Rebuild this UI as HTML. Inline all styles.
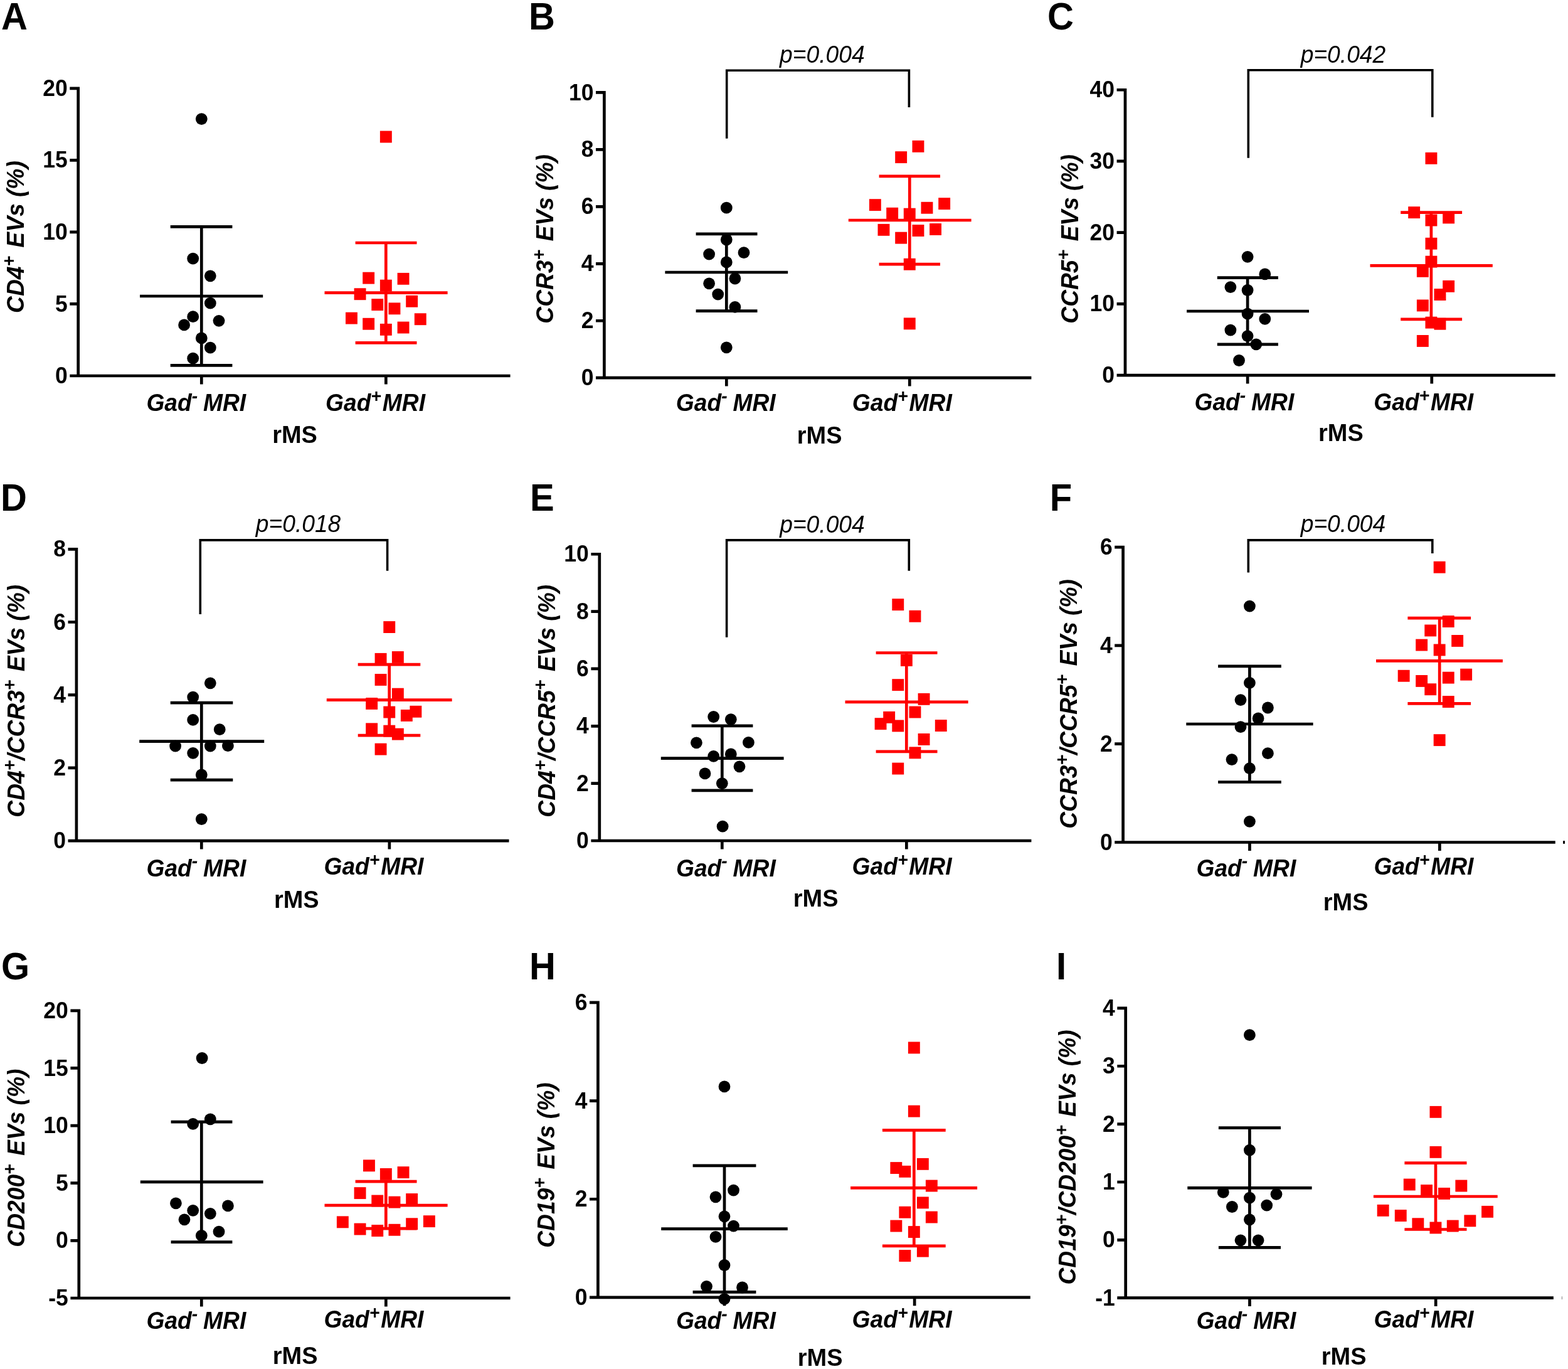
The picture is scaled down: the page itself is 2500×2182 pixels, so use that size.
<!DOCTYPE html>
<html lang="en">
<head>
<meta charset="utf-8">
<title>Figure: EV subpopulations in rMS by Gad MRI status</title>
<style>
html,body{margin:0;padding:0;background:#fff}
body{width:2500px;height:2182px;overflow:hidden}
svg{display:block}
text{font-family:"Liberation Sans",Arial,Helvetica,sans-serif;fill:#000}
.pl{font-size:58px;font-weight:bold}
.tk{font-size:35.5px;font-weight:bold;text-anchor:end}
.yl,.xl{font-size:37.2px;font-weight:bold;font-style:italic}
.rm{font-size:37.2px;font-weight:bold}
.pv{font-size:37.2px;font-style:italic}
.ax,.eb{stroke:#000;stroke-width:4.7;fill:none}
.er{stroke:#ff0000;stroke-width:4.7;fill:none}
.br{stroke:#000;stroke-width:3.6;fill:none}
.c{fill:#000}
.s{fill:#ff0000}
</style>
</head>
<body>
<svg xmlns="http://www.w3.org/2000/svg" width="2500" height="2182" viewBox="0 0 2500 2182">
<rect width="2500" height="2182" fill="#fff"/>
<g id="panel-A">
<text class="pl" transform="translate(1.9 46.8) scale(1 1.042)">A</text>
<path class="ax" d="M124.7 138.45V601.35M111.3 599H813.57M111.3 140.8H124.7M111.3 255.35H124.7M111.3 369.9H124.7M111.3 484.45H124.7M321.3 599V612.4M615.34 599V612.4"/>
<text class="tk" transform="translate(107.72 152.89) scale(1 1.06)">20</text>
<text class="tk" transform="translate(107.72 267.44) scale(1 1.06)">15</text>
<text class="tk" transform="translate(107.72 381.99) scale(1 1.06)">10</text>
<text class="tk" transform="translate(107.72 496.54) scale(1 1.06)">5</text>
<text class="tk" transform="translate(107.72 611.09) scale(1 1.06)">0</text>
<text class="yl" transform="translate(37.8 498.9) rotate(-90) scale(1 1.03)">CD4<tspan dy="-13.4" font-size="28.3">+</tspan><tspan dy="13.4" dx="3">&#160;EVs (%)</tspan></text>
<text class="xl" transform="translate(233.41 654.7) scale(1 1.06)">Gad<tspan dy="-13.4" font-size="28.3">-</tspan><tspan dy="13.4" dx="-1.5">&#160;MRI</tspan></text>
<text class="xl" transform="translate(519.02 654.7) scale(1 1.06)">Gad<tspan dy="-13.4" font-size="28.3">+</tspan><tspan dy="13.4" dx="1.9">MRI</tspan></text>
<text class="rm" transform="translate(434.18 705.62) scale(1.02 1.06)">rMS</text>
<path class="eb" d="M223 472H419.2M271.7 361.4H370.4M271.7 582.3H370.4M321.3 361.4V582.3"/>
<path class="er" d="M517.5 466.7H713.6M566.6 387H664.5M566.6 546.4H664.5M615.3 387V546.4"/>
<circle class="c" cx="321.3" cy="189.6" r="9.4"/>
<circle class="c" cx="307.7" cy="412.2" r="9.4"/>
<circle class="c" cx="335.3" cy="439.8" r="9.4"/>
<circle class="c" cx="335.3" cy="483.2" r="9.4"/>
<circle class="c" cx="307.7" cy="504.7" r="9.4"/>
<circle class="c" cx="349" cy="511.3" r="9.4"/>
<circle class="c" cx="293.6" cy="517.9" r="9.4"/>
<circle class="c" cx="321.3" cy="538.9" r="9.4"/>
<circle class="c" cx="335.3" cy="554.2" r="9.4"/>
<circle class="c" cx="307.7" cy="571.2" r="9.4"/>
<rect class="s" x="605.9" y="208.6" width="18.9" height="18.9"/>
<rect class="s" x="578.2" y="433.7" width="18.9" height="18.9"/>
<rect class="s" x="633.6" y="434.9" width="18.9" height="18.9"/>
<rect class="s" x="605.9" y="445.7" width="18.9" height="18.9"/>
<rect class="s" x="564.6" y="459.3" width="18.9" height="18.9"/>
<rect class="s" x="647.2" y="470.8" width="18.9" height="18.9"/>
<rect class="s" x="592.3" y="476.2" width="18.9" height="18.9"/>
<rect class="s" x="619.5" y="482.4" width="18.9" height="18.9"/>
<rect class="s" x="551" y="497.7" width="18.9" height="18.9"/>
<rect class="s" x="660.8" y="499.3" width="18.9" height="18.9"/>
<rect class="s" x="578.2" y="506.8" width="18.9" height="18.9"/>
<rect class="s" x="633.6" y="512.6" width="18.9" height="18.9"/>
<rect class="s" x="605.9" y="515.9" width="18.9" height="18.9"/>
</g>
<g id="panel-B">
<text class="pl" transform="translate(843.1 46.8) scale(1 1.042)">B</text>
<path class="ax" d="M963.4 145.1V604.55M950 602.2H1644.4M950 147.45H963.4M950 238.4H963.4M950 329.35H963.4M950 420.3H963.4M950 511.25H963.4M1158.32 602.2V615.6M1450.29 602.2V615.6"/>
<text class="tk" transform="translate(946.42 159.54) scale(1 1.06)">10</text>
<text class="tk" transform="translate(946.42 250.49) scale(1 1.06)">8</text>
<text class="tk" transform="translate(946.42 341.44) scale(1 1.06)">6</text>
<text class="tk" transform="translate(946.42 432.39) scale(1 1.06)">4</text>
<text class="tk" transform="translate(946.42 523.34) scale(1 1.06)">2</text>
<text class="tk" transform="translate(946.42 614.29) scale(1 1.06)">0</text>
<text class="yl" transform="translate(882.4 515.7) rotate(-90) scale(1 1.03)">CCR3<tspan dy="-13.4" font-size="28.3">+</tspan><tspan dy="13.4" dx="3">&#160;EVs (%)</tspan></text>
<text class="xl" transform="translate(1077.82 654.7) scale(1 1.06)">Gad<tspan dy="-13.4" font-size="28.3">-</tspan><tspan dy="13.4" dx="-1.5">&#160;MRI</tspan></text>
<text class="xl" transform="translate(1358.77 654.99) scale(1 1.06)">Gad<tspan dy="-13.4" font-size="28.3">+</tspan><tspan dy="13.4" dx="1.9">MRI</tspan></text>
<text class="rm" transform="translate(1270.79 707.02) scale(1.02 1.06)">rMS</text>
<text class="pv" transform="translate(1243.1 100.2) scale(1 1.06)">p=0.004</text>
<path class="br" d="M1158.7 220.7V112.2H1449.4V170.9"/>
<path class="eb" d="M1060.4 434H1256.2M1109.6 372.9H1207.5M1109.6 495.6H1207.5M1158.3 372.9V495.6"/>
<path class="er" d="M1352.8 351H1548.6M1401.6 280.8H1499M1401.6 421.2H1499M1450.3 280.8V421.2"/>
<circle class="c" cx="1158.3" cy="331.2" r="9.4"/>
<circle class="c" cx="1158.3" cy="382" r="9.4"/>
<circle class="c" cx="1130.6" cy="405.1" r="9.4"/>
<circle class="c" cx="1186" cy="402.7" r="9.4"/>
<circle class="c" cx="1158.3" cy="417.9" r="9.4"/>
<circle class="c" cx="1171.9" cy="444" r="9.4"/>
<circle class="c" cx="1130.6" cy="451.8" r="9.4"/>
<circle class="c" cx="1144.7" cy="469.1" r="9.4"/>
<circle class="c" cx="1171.9" cy="489.4" r="9.4"/>
<circle class="c" cx="1158.3" cy="553.8" r="9.4"/>
<rect class="s" x="1454.5" y="223.9" width="18.9" height="18.9"/>
<rect class="s" x="1427.2" y="241.2" width="18.9" height="18.9"/>
<rect class="s" x="1385.9" y="317.2" width="18.9" height="18.9"/>
<rect class="s" x="1496.2" y="315.2" width="18.9" height="18.9"/>
<rect class="s" x="1468.5" y="321.8" width="18.9" height="18.9"/>
<rect class="s" x="1413.2" y="330.8" width="18.9" height="18.9"/>
<rect class="s" x="1440.8" y="331.7" width="18.9" height="18.9"/>
<rect class="s" x="1399.5" y="356.9" width="18.9" height="18.9"/>
<rect class="s" x="1482.1" y="356" width="18.9" height="18.9"/>
<rect class="s" x="1454.5" y="358.1" width="18.9" height="18.9"/>
<rect class="s" x="1427.2" y="369.7" width="18.9" height="18.9"/>
<rect class="s" x="1440.8" y="411.8" width="18.9" height="18.9"/>
<rect class="s" x="1440.8" y="506.4" width="18.9" height="18.9"/>
</g>
<g id="panel-C">
<text class="pl" transform="translate(1670.1 46.8) scale(1 1.042)">C</text>
<path class="ax" d="M1794 140.9V600.45M1780.6 598.1H2479.76M1780.6 143.25H1794M1780.6 256.96H1794M1780.6 370.68H1794M1780.6 484.39H1794M1989.14 598.1V611.5M2282.77 598.1V611.5"/>
<text class="tk" transform="translate(1777.02 155.34) scale(1 1.06)">40</text>
<text class="tk" transform="translate(1777.02 269.06) scale(1 1.06)">30</text>
<text class="tk" transform="translate(1777.02 382.77) scale(1 1.06)">20</text>
<text class="tk" transform="translate(1777.02 496.48) scale(1 1.06)">10</text>
<text class="tk" transform="translate(1777.02 610.19) scale(1 1.06)">0</text>
<text class="yl" transform="translate(1719.2 515.7) rotate(-90) scale(1 1.03)">CCR5<tspan dy="-13.4" font-size="28.3">+</tspan><tspan dy="13.4" dx="3">&#160;EVs (%)</tspan></text>
<text class="xl" transform="translate(1904.47 654.2) scale(1 1.06)">Gad<tspan dy="-13.4" font-size="28.3">-</tspan><tspan dy="13.4" dx="-1.5">&#160;MRI</tspan></text>
<text class="xl" transform="translate(2190.26 654.2) scale(1 1.06)">Gad<tspan dy="-13.4" font-size="28.3">+</tspan><tspan dy="13.4" dx="1.9">MRI</tspan></text>
<text class="rm" transform="translate(2102.03 702.89) scale(1.02 1.06)">rMS</text>
<text class="pv" transform="translate(2073.7 100.1) scale(1 1.06)">p=0.042</text>
<path class="br" d="M1990.3 251.8V111.8H2283.8V186.7"/>
<path class="eb" d="M1892.1 496H2087M1940.8 442.7H2037.9M1940.8 548.8H2037.9M1989.1 442.7V548.8"/>
<path class="er" d="M2184.5 423.3H2379.8M2233.2 338.6H2331.1M2233.2 508.8H2331.1M2281.9 338.6V508.8"/>
<circle class="c" cx="1989.1" cy="409.3" r="9.4"/>
<circle class="c" cx="2016.8" cy="436.9" r="9.4"/>
<circle class="c" cx="1961.9" cy="457.6" r="9.4"/>
<circle class="c" cx="1989.1" cy="462.5" r="9.4"/>
<circle class="c" cx="1989.1" cy="500.1" r="9.4"/>
<circle class="c" cx="2016.8" cy="508.4" r="9.4"/>
<circle class="c" cx="1961.9" cy="526.1" r="9.4"/>
<circle class="c" cx="1989.1" cy="535.6" r="9.4"/>
<circle class="c" cx="2002.8" cy="548.8" r="9.4"/>
<circle class="c" cx="1975.5" cy="574.5" r="9.4"/>
<rect class="s" x="2272.5" y="242.9" width="18.9" height="18.9"/>
<rect class="s" x="2245.2" y="329.2" width="18.9" height="18.9"/>
<rect class="s" x="2300.2" y="337.5" width="18.9" height="18.9"/>
<rect class="s" x="2272.5" y="341.6" width="18.9" height="18.9"/>
<rect class="s" x="2272.5" y="378.8" width="18.9" height="18.9"/>
<rect class="s" x="2272.5" y="407.7" width="18.9" height="18.9"/>
<rect class="s" x="2258.9" y="422.9" width="18.9" height="18.9"/>
<rect class="s" x="2300.2" y="446.9" width="18.9" height="18.9"/>
<rect class="s" x="2286.5" y="460.1" width="18.9" height="18.9"/>
<rect class="s" x="2258.9" y="477.5" width="18.9" height="18.9"/>
<rect class="s" x="2272.5" y="504.7" width="18.9" height="18.9"/>
<rect class="s" x="2286.5" y="506.8" width="18.9" height="18.9"/>
<rect class="s" x="2258.9" y="534" width="18.9" height="18.9"/>
</g>
<g id="panel-D">
<text class="pl" transform="translate(1 813.7) scale(1 1.042)">D</text>
<path class="ax" d="M121.9 872.95V1342.45M108.5 1340.1H811.5M108.5 875.3H121.9M108.5 991.5H121.9M108.5 1107.7H121.9M108.5 1223.9H121.9M321.3 1340.1V1353.5M620.87 1340.1V1353.5"/>
<text class="tk" transform="translate(104.92 887.39) scale(1 1.06)">8</text>
<text class="tk" transform="translate(104.92 1003.59) scale(1 1.06)">6</text>
<text class="tk" transform="translate(104.92 1119.79) scale(1 1.06)">4</text>
<text class="tk" transform="translate(104.92 1235.99) scale(1 1.06)">2</text>
<text class="tk" transform="translate(104.92 1352.19) scale(1 1.06)">0</text>
<text class="yl" transform="translate(39 1302.7) rotate(-90) scale(1 1.03)">CD4<tspan dy="-13.4" font-size="28.3">+</tspan><tspan dy="13.4">/CCR3</tspan><tspan dy="-13.4" font-size="28.3">+</tspan><tspan dy="13.4" dx="3">&#160;EVs (%)</tspan></text>
<text class="xl" transform="translate(233.45 1396.54) scale(1 1.06)">Gad<tspan dy="-13.4" font-size="28.3">-</tspan><tspan dy="13.4" dx="-1.5">&#160;MRI</tspan></text>
<text class="xl" transform="translate(516.5 1393.98) scale(1 1.06)">Gad<tspan dy="-13.4" font-size="28.3">+</tspan><tspan dy="13.4" dx="1.9">MRI</tspan></text>
<text class="rm" transform="translate(436.95 1446.84) scale(1.02 1.06)">rMS</text>
<text class="pv" transform="translate(407.8 847.7) scale(1 1.06)">p=0.018</text>
<path class="br" d="M319.3 978.9V860.9H617.6V909.8"/>
<path class="eb" d="M222.2 1181.7H421.2M271.7 1120.2H371.3M271.7 1243.2H371.3M321.3 1120.2V1243.2"/>
<path class="er" d="M520.8 1115.6H720.6M570.7 1059.1H670.3M570.7 1172.2H670.3M620.7 1059.1V1172.2"/>
<circle class="c" cx="335.3" cy="1088.8" r="9.4"/>
<circle class="c" cx="307.7" cy="1111.1" r="9.4"/>
<circle class="c" cx="307.7" cy="1147.4" r="9.4"/>
<circle class="c" cx="350.2" cy="1162.7" r="9.4"/>
<circle class="c" cx="279.6" cy="1189.1" r="9.4"/>
<circle class="c" cx="335.3" cy="1189.1" r="9.4"/>
<circle class="c" cx="363.4" cy="1188.7" r="9.4"/>
<circle class="c" cx="307.7" cy="1200.3" r="9.4"/>
<circle class="c" cx="321.3" cy="1235" r="9.4"/>
<circle class="c" cx="321.3" cy="1305.6" r="9.4"/>
<rect class="s" x="611.3" y="990.1" width="18.9" height="18.9"/>
<rect class="s" x="597.6" y="1040.9" width="18.9" height="18.9"/>
<rect class="s" x="624.9" y="1038" width="18.9" height="18.9"/>
<rect class="s" x="597.6" y="1074" width="18.9" height="18.9"/>
<rect class="s" x="624.9" y="1096.7" width="18.9" height="18.9"/>
<rect class="s" x="583.2" y="1112" width="18.9" height="18.9"/>
<rect class="s" x="611.3" y="1125.6" width="18.9" height="18.9"/>
<rect class="s" x="653.4" y="1124.8" width="18.9" height="18.9"/>
<rect class="s" x="638.9" y="1131" width="18.9" height="18.9"/>
<rect class="s" x="583.2" y="1152.4" width="18.9" height="18.9"/>
<rect class="s" x="611.3" y="1155.7" width="18.9" height="18.9"/>
<rect class="s" x="624.9" y="1160.7" width="18.9" height="18.9"/>
<rect class="s" x="597.6" y="1184.7" width="18.9" height="18.9"/>
</g>
<g id="panel-E">
<text class="pl" transform="translate(845.1 813.7) scale(1 1.042)">E</text>
<path class="ax" d="M955.8 880.9V1342.35M942.4 1340H1644.4M942.4 883.25H955.8M942.4 974.6H955.8M942.4 1065.95H955.8M942.4 1157.3H955.8M942.4 1248.65H955.8M1151.3 1340V1353.4M1445.34 1340V1353.4"/>
<text class="tk" transform="translate(938.82 895.34) scale(1 1.06)">10</text>
<text class="tk" transform="translate(938.82 986.69) scale(1 1.06)">8</text>
<text class="tk" transform="translate(938.82 1078.04) scale(1 1.06)">6</text>
<text class="tk" transform="translate(938.82 1169.39) scale(1 1.06)">4</text>
<text class="tk" transform="translate(938.82 1260.74) scale(1 1.06)">2</text>
<text class="tk" transform="translate(938.82 1352.09) scale(1 1.06)">0</text>
<text class="yl" transform="translate(884.95 1302.7) rotate(-90) scale(1 1.03)">CD4<tspan dy="-13.4" font-size="28.3">+</tspan><tspan dy="13.4">/CCR5</tspan><tspan dy="-13.4" font-size="28.3">+</tspan><tspan dy="13.4" dx="3">&#160;EVs (%)</tspan></text>
<text class="xl" transform="translate(1077.98 1396.54) scale(1 1.06)">Gad<tspan dy="-13.4" font-size="28.3">-</tspan><tspan dy="13.4" dx="-1.5">&#160;MRI</tspan></text>
<text class="xl" transform="translate(1358.6 1393.98) scale(1 1.06)">Gad<tspan dy="-13.4" font-size="28.3">+</tspan><tspan dy="13.4" dx="1.9">MRI</tspan></text>
<text class="rm" transform="translate(1264.8 1444.53) scale(1.02 1.06)">rMS</text>
<text class="pv" transform="translate(1243.2 848.7) scale(1 1.06)">p=0.004</text>
<path class="br" d="M1158.6 1015.8V860.9H1449.3V909.8"/>
<path class="eb" d="M1053.8 1208.6H1249.6M1102.6 1156.9H1200.4M1102.6 1259.8H1200.4M1151.3 1156.9V1259.8"/>
<path class="er" d="M1347.5 1118.9H1543.6M1396.6 1040.5H1494.5M1396.6 1197.8H1494.5M1445.3 1040.5V1197.8"/>
<circle class="c" cx="1137.7" cy="1142.5" r="9.4"/>
<circle class="c" cx="1165.3" cy="1146.6" r="9.4"/>
<circle class="c" cx="1110.4" cy="1183.8" r="9.4"/>
<circle class="c" cx="1193.4" cy="1183.4" r="9.4"/>
<circle class="c" cx="1137.7" cy="1205.3" r="9.4"/>
<circle class="c" cx="1165.3" cy="1201.9" r="9.4"/>
<circle class="c" cx="1179" cy="1221.8" r="9.4"/>
<circle class="c" cx="1124" cy="1232.9" r="9.4"/>
<circle class="c" cx="1151.3" cy="1248.6" r="9.4"/>
<circle class="c" cx="1152.1" cy="1317.2" r="9.4"/>
<rect class="s" x="1422.3" y="954.2" width="18.9" height="18.9"/>
<rect class="s" x="1449.5" y="972.8" width="18.9" height="18.9"/>
<rect class="s" x="1435.9" y="1043" width="18.9" height="18.9"/>
<rect class="s" x="1422.3" y="1082.2" width="18.9" height="18.9"/>
<rect class="s" x="1463.6" y="1104.9" width="18.9" height="18.9"/>
<rect class="s" x="1449.5" y="1125.6" width="18.9" height="18.9"/>
<rect class="s" x="1408.2" y="1133.9" width="18.9" height="18.9"/>
<rect class="s" x="1394.6" y="1144.2" width="18.9" height="18.9"/>
<rect class="s" x="1422.3" y="1147.5" width="18.9" height="18.9"/>
<rect class="s" x="1490.8" y="1147.1" width="18.9" height="18.9"/>
<rect class="s" x="1463.6" y="1169" width="18.9" height="18.9"/>
<rect class="s" x="1449.5" y="1190.4" width="18.9" height="18.9"/>
<rect class="s" x="1422.3" y="1215.6" width="18.9" height="18.9"/>
</g>
<g id="panel-F">
<text class="pl" transform="translate(1673.7 813.7) scale(1 1.042)">F</text>
<path class="ax" d="M1790.6 869.75V1344.85M1777.2 1342.5H2479.76M1777.2 872.1H1790.6M1777.2 1028.9H1790.6M1777.2 1185.7H1790.6M1992.45 1342.5V1355.9M2295.37 1342.5V1355.9"/>
<rect x="2492.1" y="1340.15" width="2.9" height="4.7" fill="#000"/>
<text class="tk" transform="translate(1773.62 884.19) scale(1 1.06)">6</text>
<text class="tk" transform="translate(1773.62 1040.99) scale(1 1.06)">4</text>
<text class="tk" transform="translate(1773.62 1197.79) scale(1 1.06)">2</text>
<text class="tk" transform="translate(1773.62 1354.59) scale(1 1.06)">0</text>
<text class="yl" transform="translate(1716.8 1320.8) rotate(-90) scale(1 1.03)">CCR3<tspan dy="-13.4" font-size="28.3">+</tspan><tspan dy="13.4">/CCR5</tspan><tspan dy="-13.4" font-size="28.3">+</tspan><tspan dy="13.4" dx="3">&#160;EVs (%)</tspan></text>
<text class="xl" transform="translate(1907.45 1396.54) scale(1 1.06)">Gad<tspan dy="-13.4" font-size="28.3">-</tspan><tspan dy="13.4" dx="-1.5">&#160;MRI</tspan></text>
<text class="xl" transform="translate(2190.46 1393.98) scale(1 1.06)">Gad<tspan dy="-13.4" font-size="28.3">+</tspan><tspan dy="13.4" dx="1.9">MRI</tspan></text>
<text class="rm" transform="translate(2109.84 1450.97) scale(1.02 1.06)">rMS</text>
<text class="pv" transform="translate(2073.7 847.7) scale(1 1.06)">p=0.004</text>
<path class="br" d="M1990.3 912.6V860.9H2283.8V882"/>
<path class="eb" d="M1891.3 1154H2093.6M1942.1 1061.9H2042.8M1942.1 1246.5H2042.8M1992.4 1061.9V1246.5"/>
<path class="er" d="M2194 1053.3H2395.9M2244.4 985.1H2345.1M2244.4 1121.4H2345.1M2295.2 985.1V1121.4"/>
<circle class="c" cx="1992.4" cy="966.1" r="9.4"/>
<circle class="c" cx="1992.4" cy="1088.4" r="9.4"/>
<circle class="c" cx="1978" cy="1115.6" r="9.4"/>
<circle class="c" cx="2021.4" cy="1128" r="9.4"/>
<circle class="c" cx="2006.1" cy="1145" r="9.4"/>
<circle class="c" cx="1978" cy="1158.6" r="9.4"/>
<circle class="c" cx="2021.4" cy="1200.7" r="9.4"/>
<circle class="c" cx="1964" cy="1210.6" r="9.4"/>
<circle class="c" cx="1992.4" cy="1224.7" r="9.4"/>
<circle class="c" cx="1992.4" cy="1309.3" r="9.4"/>
<rect class="s" x="2285.7" y="894.7" width="18.9" height="18.9"/>
<rect class="s" x="2299.8" y="981.1" width="18.9" height="18.9"/>
<rect class="s" x="2271.3" y="995.5" width="18.9" height="18.9"/>
<rect class="s" x="2314.2" y="1012" width="18.9" height="18.9"/>
<rect class="s" x="2257.2" y="1018.6" width="18.9" height="18.9"/>
<rect class="s" x="2285.7" y="1026.5" width="18.9" height="18.9"/>
<rect class="s" x="2228.7" y="1067.8" width="18.9" height="18.9"/>
<rect class="s" x="2328.2" y="1065.7" width="18.9" height="18.9"/>
<rect class="s" x="2299.8" y="1070.7" width="18.9" height="18.9"/>
<rect class="s" x="2257.2" y="1076" width="18.9" height="18.9"/>
<rect class="s" x="2271.3" y="1089.3" width="18.9" height="18.9"/>
<rect class="s" x="2299.8" y="1109.1" width="18.9" height="18.9"/>
<rect class="s" x="2285.7" y="1170.2" width="18.9" height="18.9"/>
</g>
<g id="panel-G">
<text class="pl" transform="translate(2.1 1561.4) scale(1 1.042)">G</text>
<path class="ax" d="M125.8 1608.45V2071.35M112.4 2069H813.57M112.4 1610.8H125.8M112.4 1702.44H125.8M112.4 1794.08H125.8M112.4 1885.72H125.8M112.4 1977.36H125.8M321.3 2069V2082.4M615.34 2069V2082.4"/>
<text class="tk" transform="translate(108.82 1622.89) scale(1 1.06)">20</text>
<text class="tk" transform="translate(108.82 1714.53) scale(1 1.06)">15</text>
<text class="tk" transform="translate(108.82 1806.17) scale(1 1.06)">10</text>
<text class="tk" transform="translate(108.82 1897.81) scale(1 1.06)">5</text>
<text class="tk" transform="translate(108.82 1989.45) scale(1 1.06)">0</text>
<text class="tk" transform="translate(108.82 2081.09) scale(1 1.06)">-5</text>
<text class="yl" transform="translate(39 1987.7) rotate(-90) scale(1 1.03)">CD200<tspan dy="-13.4" font-size="28.3">+</tspan><tspan dy="13.4" dx="3">&#160;EVs (%)</tspan></text>
<text class="xl" transform="translate(233.45 2118.05) scale(1 1.06)">Gad<tspan dy="-13.4" font-size="28.3">-</tspan><tspan dy="13.4" dx="-1.5">&#160;MRI</tspan></text>
<text class="xl" transform="translate(516.46 2115.98) scale(1 1.06)">Gad<tspan dy="-13.4" font-size="28.3">+</tspan><tspan dy="13.4" dx="1.9">MRI</tspan></text>
<text class="rm" transform="translate(434.8 2174.46) scale(1.02 1.06)">rMS</text>
<path class="eb" d="M223.8 1883.9H419.6M272.6 1788.1H370.4M272.6 1979.7H370.4M321.3 1788.1V1979.7"/>
<path class="er" d="M517.5 1921.1H713.6M566.6 1883.1H664.5M566.6 1958.2H664.5M615.3 1883.1V1958.2"/>
<circle class="c" cx="322.1" cy="1686.5" r="9.4"/>
<circle class="c" cx="335.3" cy="1783.9" r="9.4"/>
<circle class="c" cx="307.7" cy="1791.4" r="9.4"/>
<circle class="c" cx="280.4" cy="1917.8" r="9.4"/>
<circle class="c" cx="363.4" cy="1921.9" r="9.4"/>
<circle class="c" cx="307.7" cy="1929.3" r="9.4"/>
<circle class="c" cx="335.3" cy="1934.3" r="9.4"/>
<circle class="c" cx="294" cy="1943.8" r="9.4"/>
<circle class="c" cx="349" cy="1963.2" r="9.4"/>
<circle class="c" cx="321.3" cy="1969.4" r="9.4"/>
<rect class="s" x="579" y="1848.4" width="18.9" height="18.9"/>
<rect class="s" x="633.6" y="1859.2" width="18.9" height="18.9"/>
<rect class="s" x="605.9" y="1862" width="18.9" height="18.9"/>
<rect class="s" x="564.6" y="1892.2" width="18.9" height="18.9"/>
<rect class="s" x="647.2" y="1902.1" width="18.9" height="18.9"/>
<rect class="s" x="592.3" y="1904.6" width="18.9" height="18.9"/>
<rect class="s" x="619.5" y="1906.7" width="18.9" height="18.9"/>
<rect class="s" x="536.9" y="1938.4" width="18.9" height="18.9"/>
<rect class="s" x="674.9" y="1937.2" width="18.9" height="18.9"/>
<rect class="s" x="647.2" y="1941.3" width="18.9" height="18.9"/>
<rect class="s" x="564.6" y="1949.6" width="18.9" height="18.9"/>
<rect class="s" x="619.5" y="1950.8" width="18.9" height="18.9"/>
<rect class="s" x="592.3" y="1952.1" width="18.9" height="18.9"/>
</g>
<g id="panel-H">
<text class="pl" transform="translate(844.1 1561.4) scale(1 1.042)">H</text>
<path class="ax" d="M953.4 1595.55V2070.25M940 2067.9H1642.74M940 1597.9H953.4M940 1754.57H953.4M940 1911.23H953.4M1155.01 2067.9V2081.3M1458.14 2067.9V2081.3"/>
<text class="tk" transform="translate(936.42 1609.99) scale(1 1.06)">6</text>
<text class="tk" transform="translate(936.42 1766.66) scale(1 1.06)">4</text>
<text class="tk" transform="translate(936.42 1923.33) scale(1 1.06)">2</text>
<text class="tk" transform="translate(936.42 2079.99) scale(1 1.06)">0</text>
<text class="yl" transform="translate(883.8 1988.8) rotate(-90) scale(1 1.03)">CD19<tspan dy="-13.4" font-size="28.3">+</tspan><tspan dy="13.4" dx="3">&#160;EVs (%)</tspan></text>
<text class="xl" transform="translate(1077.98 2118.05) scale(1 1.06)">Gad<tspan dy="-13.4" font-size="28.3">-</tspan><tspan dy="13.4" dx="-1.5">&#160;MRI</tspan></text>
<text class="xl" transform="translate(1358.6 2115.98) scale(1 1.06)">Gad<tspan dy="-13.4" font-size="28.3">+</tspan><tspan dy="13.4" dx="1.9">MRI</tspan></text>
<text class="rm" transform="translate(1271.82 2176.73) scale(1.02 1.06)">rMS</text>
<path class="eb" d="M1054.2 1958.6H1255.8M1104.6 1857.9H1205.4M1104.6 2059.4H1205.4M1155 1857.9V2059.4"/>
<path class="er" d="M1356.1 1893.4H1558.1M1406.9 1801.3H1507.7M1406.9 1985.9H1507.7M1457.3 1801.3V1985.9"/>
<circle class="c" cx="1155" cy="1731.9" r="9.4"/>
<circle class="c" cx="1169.5" cy="1897.1" r="9.4"/>
<circle class="c" cx="1141" cy="1907.8" r="9.4"/>
<circle class="c" cx="1155" cy="1938.8" r="9.4"/>
<circle class="c" cx="1169.5" cy="1954.1" r="9.4"/>
<circle class="c" cx="1141" cy="1971.4" r="9.4"/>
<circle class="c" cx="1155" cy="2016.5" r="9.4"/>
<circle class="c" cx="1126.5" cy="2050.3" r="9.4"/>
<circle class="c" cx="1183.5" cy="2052" r="9.4"/>
<circle class="c" cx="1155" cy="2070.3" r="9.4"/>
<rect class="s" x="1447.9" y="1660.5" width="18.9" height="18.9"/>
<rect class="s" x="1447.9" y="1761.7" width="18.9" height="18.9"/>
<rect class="s" x="1461.9" y="1845.9" width="18.9" height="18.9"/>
<rect class="s" x="1419.4" y="1852.1" width="18.9" height="18.9"/>
<rect class="s" x="1433.4" y="1857.9" width="18.9" height="18.9"/>
<rect class="s" x="1475.9" y="1880.6" width="18.9" height="18.9"/>
<rect class="s" x="1461.9" y="1907.5" width="18.9" height="18.9"/>
<rect class="s" x="1433.4" y="1922.8" width="18.9" height="18.9"/>
<rect class="s" x="1475.9" y="1930.6" width="18.9" height="18.9"/>
<rect class="s" x="1419.4" y="1944.6" width="18.9" height="18.9"/>
<rect class="s" x="1447.9" y="1954.1" width="18.9" height="18.9"/>
<rect class="s" x="1461.9" y="1984.7" width="18.9" height="18.9"/>
<rect class="s" x="1433.4" y="1992.1" width="18.9" height="18.9"/>
</g>
<g id="panel-I">
<text class="pl" transform="translate(1684 1561.4) scale(1 1.042)">I</text>
<path class="ax" d="M1794.7 1604.55V2071.05M1781.3 2068.7H2476.87M1781.3 1606.9H1794.7M1781.3 1699.26H1794.7M1781.3 1791.62H1794.7M1781.3 1883.98H1794.7M1781.3 1976.34H1794.7M1992.45 2068.7V2082.1M2289.17 2068.7V2082.1"/>
<rect x="2489.8" y="2066.35" width="1.3" height="4.7" fill="#999"/>
<text class="tk" transform="translate(1777.72 1618.99) scale(1 1.06)">4</text>
<text class="tk" transform="translate(1777.72 1711.35) scale(1 1.06)">3</text>
<text class="tk" transform="translate(1777.72 1803.71) scale(1 1.06)">2</text>
<text class="tk" transform="translate(1777.72 1896.07) scale(1 1.06)">1</text>
<text class="tk" transform="translate(1777.72 1988.43) scale(1 1.06)">0</text>
<text class="tk" transform="translate(1777.72 2080.79) scale(1 1.06)">-1</text>
<text class="yl" transform="translate(1715.4 2047.5) rotate(-90) scale(1 1.03)">CD19<tspan dy="-13.4" font-size="28.3">+</tspan><tspan dy="13.4">/CD200</tspan><tspan dy="-13.4" font-size="28.3">+</tspan><tspan dy="13.4" dx="3">&#160;EVs (%)</tspan></text>
<text class="xl" transform="translate(1907.53 2118.05) scale(1 1.06)">Gad<tspan dy="-13.4" font-size="28.3">-</tspan><tspan dy="13.4" dx="-1.5">&#160;MRI</tspan></text>
<text class="xl" transform="translate(2190.5 2115.98) scale(1 1.06)">Gad<tspan dy="-13.4" font-size="28.3">+</tspan><tspan dy="13.4" dx="1.9">MRI</tspan></text>
<text class="rm" transform="translate(2106.78 2175.04) scale(1.02 1.06)">rMS</text>
<path class="eb" d="M1893.3 1893.4H2091.6M1942.9 1797.6H2042M1942.9 1988.4H2042M1992.4 1797.6V1988.4"/>
<path class="er" d="M2189.9 1907H2387.7M2239.4 1853.7H2338.5M2239.4 1959.5H2338.5M2289 1853.7V1959.5"/>
<circle class="c" cx="1992.4" cy="1649.7" r="9.4"/>
<circle class="c" cx="1992.4" cy="1833.1" r="9.4"/>
<circle class="c" cx="1950.3" cy="1900.4" r="9.4"/>
<circle class="c" cx="2035" cy="1903.3" r="9.4"/>
<circle class="c" cx="1992.4" cy="1909.1" r="9.4"/>
<circle class="c" cx="1964.4" cy="1923.5" r="9.4"/>
<circle class="c" cx="2019.7" cy="1921.1" r="9.4"/>
<circle class="c" cx="1992.4" cy="1943.8" r="9.4"/>
<circle class="c" cx="1978" cy="1976.8" r="9.4"/>
<circle class="c" cx="2006.1" cy="1976.8" r="9.4"/>
<rect class="s" x="2279.5" y="1762.9" width="18.9" height="18.9"/>
<rect class="s" x="2279.5" y="1826.9" width="18.9" height="18.9"/>
<rect class="s" x="2237.8" y="1878.6" width="18.9" height="18.9"/>
<rect class="s" x="2320.4" y="1880.6" width="18.9" height="18.9"/>
<rect class="s" x="2265.1" y="1888.1" width="18.9" height="18.9"/>
<rect class="s" x="2293.1" y="1893" width="18.9" height="18.9"/>
<rect class="s" x="2195.7" y="1919.9" width="18.9" height="18.9"/>
<rect class="s" x="2362.1" y="1921.9" width="18.9" height="18.9"/>
<rect class="s" x="2223.8" y="1928.1" width="18.9" height="18.9"/>
<rect class="s" x="2334.4" y="1936.4" width="18.9" height="18.9"/>
<rect class="s" x="2251.4" y="1941.3" width="18.9" height="18.9"/>
<rect class="s" x="2306.8" y="1944.6" width="18.9" height="18.9"/>
<rect class="s" x="2279.5" y="1947.5" width="18.9" height="18.9"/>
</g>
</svg>
</body>
</html>
